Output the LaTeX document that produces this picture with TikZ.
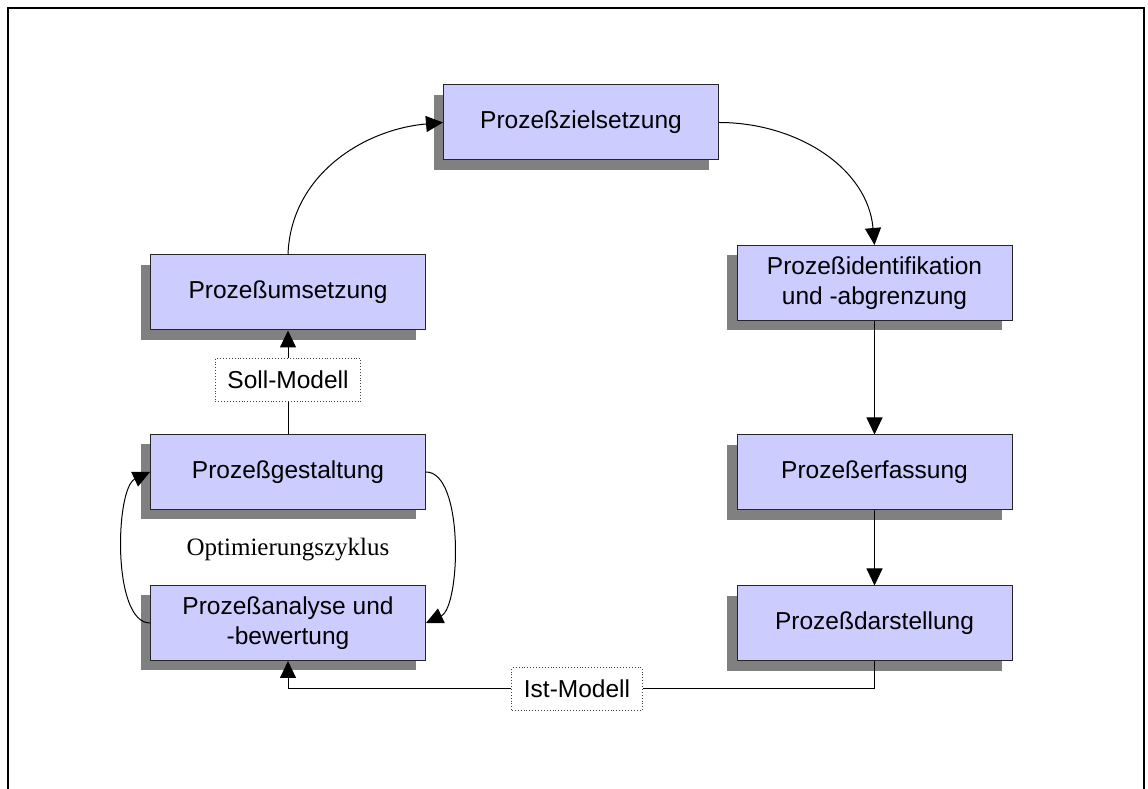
\documentclass[tikz,border=0pt]{standalone}
\usepackage{fontspec}
\setmainfont{Liberation Sans}
\newfontfamily\optimfont{Liberation Serif}
\usepackage{tikz}
\usetikzlibrary{positioning,calc}
\usetikzlibrary{arrows.meta,shadows}
\definecolor{BoxLilac}{RGB}{204,204,255}
\definecolor{ShadowGray}{RGB}{128,128,128}
\newcommand{\boxfont}{\fontsize{24.5}{30}\selectfont}
\tikzset{
  procbox/.style={draw=black!85,fill=BoxLilac,line width=1pt,minimum width=275pt,
    minimum height=75pt,align=center,font=\boxfont,
    general shadow={fill=ShadowGray,shadow xshift=-10pt,shadow yshift=-10pt}},
  modelbox/.style={draw=black!75,dotted,fill=white,line width=0.9pt,
    minimum height=43pt,inner xsep=12pt,font=\boxfont},
  conn/.style={draw=black,line width=1pt},
}
\tikzset{arr/.style={conn,-{Triangle[length=17pt,width=16pt]}}, frame/.style={draw=black,line width=2.5pt}}

\begin{document}
\begin{tikzpicture}[x=1pt,y=1pt]
\useasboundingbox (0,0) rectangle (1148,789);
\draw[frame] (8,-20) -- (8,781) -- (1144,781) -- (1144,-20);
\node[procbox] (ziel) at (581,666.5) {Prozeßzielsetzung};
\node[procbox] (ident) at (874.5,506) {Prozeßidentifikation\\und -abgrenzung};
\node[procbox] (erfass) at (874.5,316.5) {Prozeßerfassung};
\node[procbox] (darst) at (874.5,165.5) {Prozeßdarstellung};
\node[procbox] (umsetz) at (288,496.5) {Prozeßumsetzung};
\node[procbox] (gestalt) at (288,317) {Prozeßgestaltung};
\node[procbox] (analyse) at (288,166) {Prozeßanalyse und\\-bewertung};
\node[modelbox] (soll) at (288,409) {Soll-Modell};
\node[modelbox] (ist) at (577,100) {Ist-Modell};
\node[font=\optimfont\fontsize{25}{30}\selectfont] (optim) at (288,239) {Optimierungszyklus};
\draw[arr] (umsetz.north) to[out=88,in=185] (ziel.west);
\draw[arr] (ziel.east) to[out=0,in=95] (ident.north);
\draw[arr] (ident.south) -- (erfass.north);
\draw[arr] (erfass.south) -- (darst.north);
\draw[conn] (darst.south) |- (ist.east);
\draw[arr] (ist.west) -| (analyse.south);
\draw[arr] (gestalt.east) to[out=0,in=25,looseness=0.65] (analyse.east);
\draw[arr] (analyse.west) to[out=180,in=205,looseness=0.65] (gestalt.west);
\draw[conn] (gestalt.north) -- (soll.south);
\draw[arr] (soll.north) -- (umsetz.south);
\end{tikzpicture}
\end{document}
